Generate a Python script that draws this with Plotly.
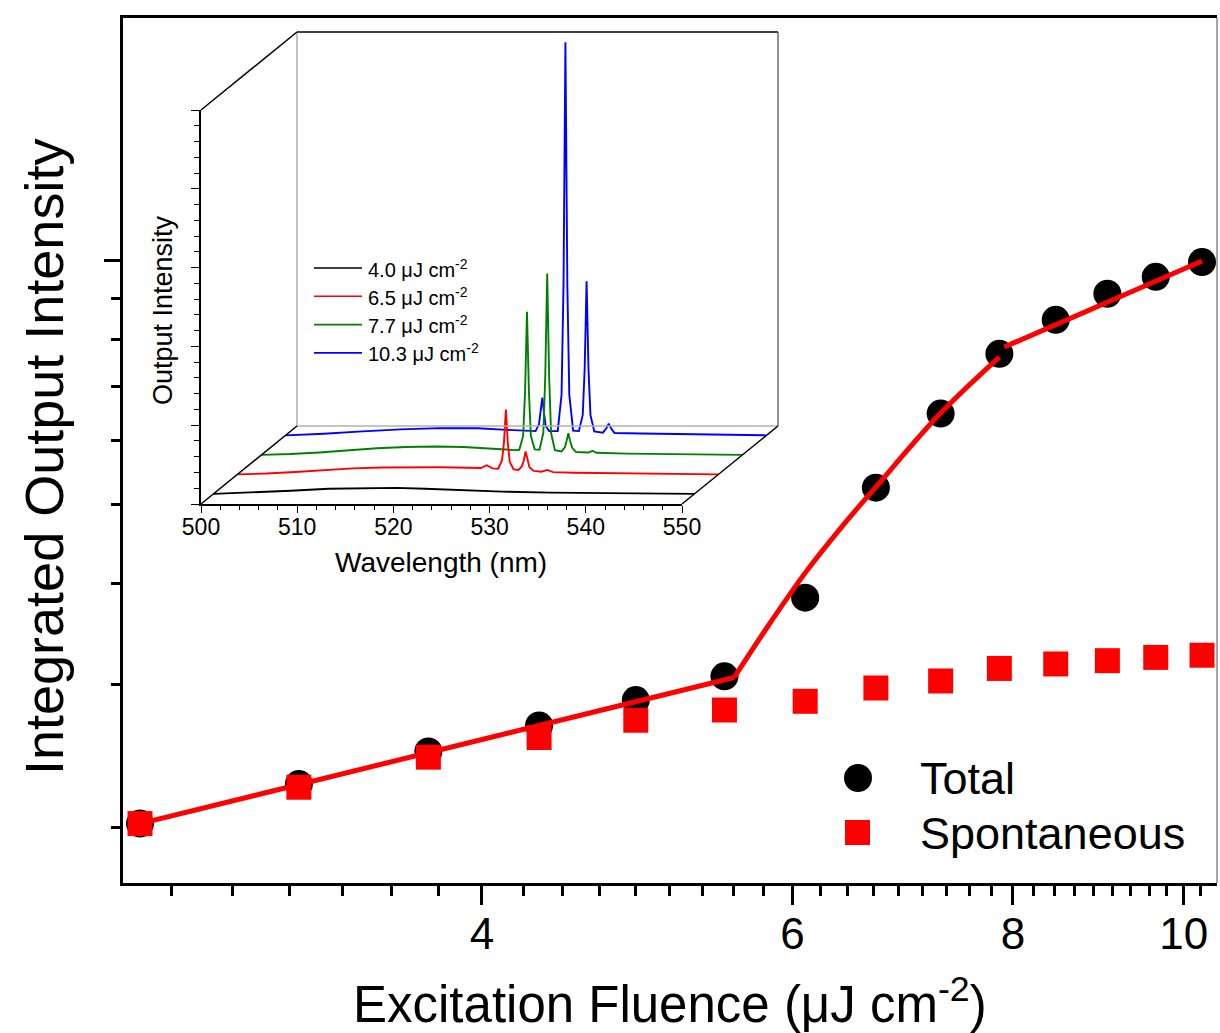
import plotly.graph_objects as go

# ---------------- main panel data ----------------
fluence = [2.56, 3.15, 3.73, 4.31, 4.89, 5.49, 6.10, 6.69, 7.28, 7.86, 8.46, 9.05, 9.64, 10.24]
total = [2.02, 2.26, 2.48, 2.67, 2.87, 3.07, 3.84, 5.25, 6.48, 7.68, 8.46, 9.11, 9.56, 9.97]
spontaneous = [2.02, 2.24, 2.44, 2.58, 2.71, 2.79, 2.86, 2.97, 3.03, 3.14, 3.18, 3.21, 3.24, 3.26]

# fitted guide lines (below threshold, rise, saturation)
fit_below_x = [2.56, 5.56]
fit_below_y = [2.02, 3.06]
fit_rise_x = [5.56, 5.80, 6.10, 6.40, 6.69, 7.28, 7.86]
fit_rise_y = [3.06, 3.52, 4.12, 4.70, 5.26, 6.49, 7.61]
fit_above_x = [7.91, 10.24]
fit_above_y = [7.83, 10.0]

x_tick_vals = [4, 6, 8, 10]
x_tick_text = ["4", "6", "8", "10"]
y_major_vals = [10]
y_minor_vals = [2, 3, 4, 5, 6, 7, 8, 9]

# ---------------- inset spectra ----------------
spectra_labels = ["4.0 μJ cm<sup>-2</sup>", "6.5 μJ cm<sup>-2</sup>",
                  "7.7 μJ cm<sup>-2</sup>", "10.3 μJ cm<sup>-2</sup>"]
spectra_colors = ["#000000", "#FF0000", "#008000", "#0000FF"]

wl_40 = [500, 504, 508, 512, 516, 519, 522, 526, 530, 535, 540, 545, 550]
int_40 = [0.0, 0.08, 0.20, 0.32, 0.38, 0.38, 0.32, 0.22, 0.14, 0.08, 0.05, 0.02, 0.0]

wl_65 = [500, 503, 506, 509, 512, 515, 518, 521, 524, 525.3, 525.9, 526.5,
         527.1, 527.5, 527.7, 527.9, 528.1, 528.3, 528.7,
         529.2, 529.55, 529.75, 529.95, 530.15, 530.35, 530.8,
         531.6, 532.2, 532.8, 535, 540, 545, 550]
int_65 = [0.0, 0.05, 0.15, 0.28, 0.38, 0.44, 0.46, 0.45, 0.42, 0.40, 0.58, 0.38,
          0.36, 0.9, 2.0, 4.12, 2.0, 0.8, 0.32,
          0.28, 0.5, 0.85, 1.46, 0.85, 0.45, 0.22,
          0.17, 0.28, 0.14, 0.10, 0.07, 0.03, 0.0]

wl_77 = [500, 503, 506, 509, 512, 515, 518, 521, 524, 526.4,
         526.8, 527.2, 527.4, 527.6, 527.8, 528.0, 528.4,
         528.9, 529.3, 529.5, 529.7, 529.9, 530.1, 530.5,
         531.2, 531.55, 531.72, 531.9, 532.08, 532.3, 532.7,
         534.0, 534.4, 534.8, 538, 544, 550]
int_77 = [0.0, 0.05, 0.15, 0.30, 0.42, 0.50, 0.53, 0.50, 0.38, 0.30,
          0.32, 1.2, 4.0, 9.08, 4.0, 1.2, 0.35,
          0.32, 1.4, 5.0, 11.5, 5.0, 1.4, 0.30,
          0.22, 0.5, 0.9, 1.38, 0.9, 0.45, 0.18,
          0.15, 0.26, 0.13, 0.08, 0.04, 0.0]

wl_103 = [500, 504, 508, 512, 516, 520, 523, 525.5,
          526.0, 526.35, 526.52, 526.7, 526.88, 527.05, 527.4,
          528.3, 528.7, 528.9, 529.1, 529.3, 529.5, 529.9,
          530.5, 530.9, 531.1, 531.3, 531.5, 531.7, 532.1,
          533.0, 533.35, 533.6, 533.85, 534.2, 537, 542, 546, 550]
int_103 = [0.0, 0.10, 0.25, 0.38, 0.46, 0.45, 0.35, 0.28,
           0.27, 0.7, 1.4, 2.4, 1.4, 0.6, 0.27,
           0.28, 2.6, 9.5, 24.95, 9.5, 2.6, 0.30,
           0.27, 1.3, 4.2, 9.77, 4.2, 1.3, 0.25,
           0.17, 0.45, 0.74, 0.45, 0.15, 0.12, 0.07, 0.03, 0.0]

spectra = [(wl_40, int_40), (wl_65, int_65), (wl_77, int_77), (wl_103, int_103)]
depth = [0.13, 0.38, 0.63, 0.88]          # position of each spectrum along the depth axis

# ---------------- geometry helpers ----------------
W, H = 1220, 1033
FONT = "Liberation Sans, Arial, Helvetica, sans-serif"


def px(x):
    return x / W


def py(y):
    return 1 - y / H


# main plot area (pixels)
M_L, M_R, M_T, M_B = 123, 1217, 18, 883

# inset front plane and depth shear (pixels)
F_L, F_R, F_T, F_B = 201, 682, 110, 504
D_X, D_Y = 96, 78
WL_MIN, WL_MAX = 500, 550
INT_TOP = 25
PX_PER_NM = (F_R - F_L) / (WL_MAX - WL_MIN)
PX_PER_UNIT = (F_B - F_T) / INT_TOP
DATA_R, DATA_T = 800, 20

fig = go.Figure()

# ---------------- main traces ----------------
fig.add_trace(go.Scatter(x=fluence, y=total, mode="markers", name="Total",
                         marker=dict(symbol="circle", size=28, color="black"),
                         showlegend=False))
line_style = dict(color="#FF0000", width=5)
fig.add_trace(go.Scatter(x=fit_below_x, y=fit_below_y, mode="lines", line=line_style,
                         showlegend=False, hoverinfo="skip"))
fig.add_trace(go.Scatter(x=fit_rise_x, y=fit_rise_y, mode="lines",
                         line=dict(color="#FF0000", width=5, shape="spline", smoothing=1.0),
                         showlegend=False, hoverinfo="skip"))
fig.add_trace(go.Scatter(x=fit_above_x, y=fit_above_y, mode="lines", line=line_style,
                         showlegend=False, hoverinfo="skip"))
fig.add_trace(go.Scatter(x=fluence, y=spontaneous, mode="markers", name="Spontaneous",
                         marker=dict(symbol="square", size=25, color="#FF0000"),
                         showlegend=False))

# empty trace so the inset's front axes get drawn
fig.add_trace(go.Scatter(x=[None], y=[None], mode="lines", xaxis="x2", yaxis="y2",
                         showlegend=False, hoverinfo="skip"))

# ---------------- inset traces (back to front) ----------------
for i in reversed(range(len(spectra))):
    wl, inten = spectra[i]
    shift_nm = depth[i] * D_X / PX_PER_NM
    shift_int = depth[i] * D_Y / PX_PER_UNIT
    fig.add_trace(go.Scatter(
        x=[w + shift_nm for w in wl], y=[v + shift_int for v in inten],
        mode="lines", line=dict(color=spectra_colors[i], width=1.9),
        xaxis="x3", yaxis="y3", showlegend=False, hoverinfo="skip"))

# ---------------- axes ----------------
minor_x = [2 + k * 2 / 9 for k in range(3, 38) if k % 9 != 0]

fig.update_layout(
    template="none",
    width=W, height=H,
    margin=dict(l=0, r=0, t=0, b=0, pad=0),
    paper_bgcolor="white", plot_bgcolor="rgba(0,0,0,0)",
    font=dict(family=FONT, color="black"),
    showlegend=False,
    xaxis=dict(domain=[px(M_L), px(M_R)], anchor="y", type="log", automargin=False,
               range=[0.3986, 1.0188], showgrid=False, zeroline=False,
               showline=True, linewidth=3, linecolor="black", mirror=True,
               tickmode="array", tickvals=x_tick_vals, ticktext=x_tick_text,
               ticks="outside", ticklen=19, tickwidth=2.5, tickcolor="black",
               ticklabelstandoff=-9,
               tickfont=dict(size=44, family=FONT, color="black"),
               minor=dict(tickmode="array", tickvals=minor_x, ticks="outside",
                          ticklen=10, tickwidth=2.5, tickcolor="black", showgrid=False)),
    yaxis=dict(domain=[py(M_B), py(M_T)], anchor="x", type="log", automargin=False,
               range=[0.232, 1.300], showgrid=False, zeroline=False,
               showline=True, linewidth=3, linecolor="black",
               tickmode="array", tickvals=y_major_vals, showticklabels=False,
               ticks="outside", ticklen=16, tickwidth=2.5, tickcolor="black",
               minor=dict(tickmode="array", tickvals=y_minor_vals, ticks="outside",
                          ticklen=9, tickwidth=2.5, tickcolor="black", showgrid=False)),
    # inset front axes
    xaxis2=dict(domain=[px(F_L), px(F_R)], anchor="y2", range=[WL_MIN, WL_MAX],
                automargin=False,
                showgrid=False, zeroline=False, showline=True, linewidth=1.5,
                linecolor="black", tickmode="linear", tick0=500, dtick=10,
                ticks="outside", ticklen=7, tickwidth=1.3, tickcolor="black",
                ticklabelstandoff=-5,
                tickfont=dict(size=23, family=FONT, color="black"),
                minor=dict(dtick=2, ticks="outside", ticklen=4, tickwidth=1.2,
                           tickcolor="black", showgrid=False)),
    yaxis2=dict(domain=[py(F_B), py(F_T)], anchor="x2", range=[0, INT_TOP],
                automargin=False,
                showgrid=False, zeroline=False, showline=True, linewidth=1.5,
                linecolor="black", tickmode="linear", tick0=0, dtick=5,
                showticklabels=False, ticks="outside", ticklen=8, tickwidth=1.3,
                tickcolor="black",
                minor=dict(dtick=1, ticks="outside", ticklen=5, tickwidth=1.2,
                           tickcolor="black", showgrid=False)),
    # inset data axes (include the depth shear)
    xaxis3=dict(domain=[px(F_L), px(DATA_R)], anchor="y3", visible=False,
                automargin=False, showgrid=False, zeroline=False,
                range=[WL_MIN, WL_MIN + (DATA_R - F_L) / PX_PER_NM]),
    yaxis3=dict(domain=[py(F_B), py(DATA_T)], anchor="x3", visible=False,
                automargin=False, showgrid=False, zeroline=False,
                range=[0, (F_B - DATA_T) / PX_PER_UNIT]),
)

# ---------------- inset box frame ----------------
shapes = []


def seg(x0, y0, x1, y1, color="black", width=1.5):
    shapes.append(dict(type="line", xref="paper", yref="paper",
                       x0=px(x0), y0=py(y0), x1=px(x1), y1=py(y1),
                       line=dict(color=color, width=width)))


seg(F_L + D_X, F_T - D_Y, F_R + D_X, F_T - D_Y)                 # back top
seg(F_R + D_X, F_T - D_Y, F_R + D_X, F_B - D_Y, "#555555", 1.3)  # back right
seg(F_L + D_X, F_T - D_Y, F_L + D_X, F_B - D_Y, "#a0a0a0", 1.3)  # back left
seg(F_L + D_X, F_B - D_Y, F_R + D_X, F_B - D_Y, "#b0b0b0", 1.3)  # back bottom
seg(F_L, F_T, F_L + D_X, F_T - D_Y)                              # top-left edge
seg(F_L, F_B, F_L + D_X, F_B - D_Y)                              # bottom-left edge
seg(F_R, F_B, F_R + D_X, F_B - D_Y)                              # bottom-right edge

# right border of the main frame
seg(M_R, M_T, M_R, M_B, "#888888", 1.5)

annotations = []

# inset legend
for i, (lab, col) in enumerate(zip(spectra_labels, spectra_colors)):
    yy = 268 + i * 28.3
    seg(314, yy, 362, yy, col, 1.6)
    annotations.append(dict(x=px(366), y=py(yy), xref="paper", yref="paper",
                            text=lab, showarrow=False, xanchor="left", yanchor="middle",
                            font=dict(size=20, family=FONT, color="black")))

# main legend
shapes.append(dict(type="circle", xref="paper", yref="paper",
                   x0=px(844), x1=px(872), y0=py(792), y1=py(764),
                   fillcolor="black", line=dict(color="black", width=0)))
shapes.append(dict(type="rect", xref="paper", yref="paper",
                   x0=px(845), x1=px(870), y0=py(845), y1=py(820),
                   fillcolor="#FF0000", line=dict(color="#FF0000", width=0)))
annotations.append(dict(x=px(918), y=py(778), xref="paper", yref="paper",
                        text="Total", showarrow=False, xanchor="left", yanchor="middle",
                        font=dict(size=45, family=FONT, color="black")))
annotations.append(dict(x=px(918), y=py(833), xref="paper", yref="paper",
                        text="Spontaneous", showarrow=False, xanchor="left",
                        yanchor="middle", font=dict(size=45, family=FONT, color="black")))

# axis titles
annotations.append(dict(x=px(670), y=py(1001), xref="paper", yref="paper",
                        text="Excitation Fluence (μJ cm<sup>-2</sup>)", showarrow=False,
                        xanchor="center", yanchor="middle",
                        font=dict(size=51, family=FONT, color="black")))
annotations.append(dict(x=px(44), y=py(457), xref="paper", yref="paper",
                        text="Integrated Output Intensity", showarrow=False,
                        textangle=-90, xanchor="center", yanchor="middle",
                        font=dict(size=54, family=FONT, color="black")))
annotations.append(dict(x=px(441), y=py(562), xref="paper", yref="paper",
                        text="Wavelength (nm)", showarrow=False,
                        xanchor="center", yanchor="middle",
                        font=dict(size=28, family=FONT, color="black")))
annotations.append(dict(x=px(163), y=py(310), xref="paper", yref="paper",
                        text="Output Intensity", showarrow=False, textangle=-90,
                        xanchor="center", yanchor="middle",
                        font=dict(size=27, family=FONT, color="black")))

fig.update_layout(shapes=shapes, annotations=annotations)

fig.write_html("out.html")
